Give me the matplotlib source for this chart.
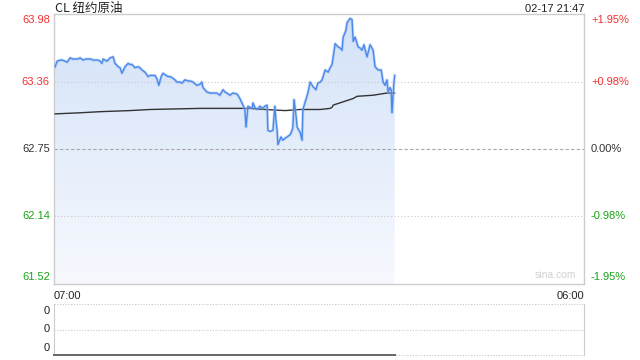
import numpy as np
import matplotlib
matplotlib.use('Agg')
import matplotlib.pyplot as plt
from matplotlib.patches import Polygon
from matplotlib.colors import LinearSegmentedColormap

# 07:00 기준 경과 분
minutes = [3, 8, 16, 21, 29, 34, 42, 49, 55, 62, 68, 76, 83, 89, 96, 102, 109, 115, 120, 125,
           128, 133, 138, 146, 154, 159, 167, 172, 177, 185, 193, 198, 203, 211, 219, 224, 229, 237, 245, 250,
           258, 263, 268, 273, 279, 284, 292, 297, 302, 307, 315, 320, 328, 333, 341, 349, 354, 362, 372, 380,
           385, 388, 393, 398, 406, 414, 424, 432, 440, 445, 450, 458, 466, 477, 484, 492, 497, 500, 503, 505,
           510, 516, 518, 523, 529, 536, 544, 549, 555, 557, 562, 570, 575, 578, 581, 583, 591, 596, 602, 607,
           615, 620, 622, 625, 630, 633, 641, 646, 648, 656, 661, 667, 674, 682, 687, 693, 698, 706, 714, 719,
           724, 732, 740, 745, 750, 753, 760, 763, 771, 776, 779, 784, 792, 797, 802, 807, 815, 823, 831, 836,
           844, 852, 857, 862, 867, 870, 875, 878, 880, 883, 885, 887]
prices = [63.50, 63.55, 63.56, 63.56, 63.55, 63.54, 63.58, 63.57, 63.57, 63.57, 63.58, 63.56, 63.57, 63.57, 63.57, 63.56, 63.56, 63.56, 63.55, 63.53,
          63.57, 63.56, 63.55, 63.58, 63.59, 63.53, 63.50, 63.49, 63.44, 63.50, 63.53, 63.52, 63.52, 63.49, 63.50, 63.49, 63.47, 63.45, 63.41, 63.42,
          63.42, 63.42, 63.39, 63.33, 63.41, 63.44, 63.42, 63.41, 63.41, 63.40, 63.38, 63.36, 63.36, 63.35, 63.38, 63.37, 63.37, 63.36, 63.33, 63.34,
          63.36, 63.31, 63.29, 63.27, 63.26, 63.26, 63.26, 63.24, 63.29, 63.27, 63.26, 63.24, 63.26, 63.25, 63.21, 63.15, 63.11, 62.95, 63.06, 63.14,
          63.13, 63.12, 63.17, 63.13, 63.11, 63.14, 63.12, 63.14, 63.15, 62.92, 62.91, 62.92, 63.14, 63.01, 62.92, 62.79, 62.86, 62.83, 62.85, 62.86,
          62.88, 62.92, 62.95, 63.20, 63.06, 62.95, 62.90, 62.83, 63.11, 63.20, 63.26, 63.36, 63.32, 63.29, 63.35, 63.36, 63.38, 63.47, 63.45, 63.49,
          63.52, 63.71, 63.68, 63.67, 63.65, 63.77, 63.83, 63.90, 63.94, 63.93, 63.73, 63.77, 63.68, 63.67, 63.65, 63.70, 63.59, 63.70, 63.65, 63.50,
          63.47, 63.47, 63.36, 63.33, 63.38, 63.27, 63.31, 63.29, 63.08, 63.24, 63.35, 63.42]

# 평균가 선
avg_minutes = [3, 68, 120, 198, 250, 380, 510, 549, 602, 641, 693, 719, 724, 727, 753, 779, 789, 831, 867, 887]
avg_prices = [63.07, 63.08, 63.09, 63.10, 63.11, 63.12, 63.12, 63.11, 63.10, 63.11, 63.11, 63.12, 63.13, 63.15, 63.18, 63.21, 63.23, 63.24, 63.26, 63.26]

price_ticks = [63.98, 63.36, 62.75, 62.14, 61.52]
price_labels = ['63.98', '63.36', '62.75', '62.14', '61.52']
pct_labels = ['+1.95%', '+0.98%', '0.00%', '-0.98%', '-1.95%']
tick_colors = ['#f23030', '#f23030', '#333333', '#1aa51a', '#1aa51a']
vol_labels = ['0', '0', '0']

title_text = 'CL 纽约原油'
time_text = '02-17 21:47'
x_start, x_end = '07:00', '06:00'
total_minutes = 1380

plt.rcParams['font.family'] = ['Liberation Sans', 'Noto Sans CJK SC', 'DejaVu Sans']

fig = plt.figure(figsize=(6.4, 3.6), dpi=100)
ax = fig.add_axes([54 / 640, 1 - 284 / 360, 530 / 640, 270 / 360])
ax2 = fig.add_axes([54 / 640, 1 - 355 / 360, 530 / 640, 51 / 360])

ymin, ymax = price_ticks[-1], price_ticks[0]
ax.set_xlim(0, total_minutes)
ax.set_ylim(ymin, ymax)

# 그라데이션 채우기
cmap = LinearSegmentedColormap.from_list('fill', ['#f7f9fe', '#d3e2f8'])
grad = np.linspace(0, 1, 256).reshape(-1, 1)
im = ax.imshow(grad, cmap=cmap, aspect='auto', origin='lower',
               extent=[0, total_minutes, ymin, ymax], zorder=1)
verts = [(minutes[0], ymin)] + list(zip(minutes, prices)) + [(minutes[-1], ymin)]
poly = Polygon(verts, closed=True, facecolor='none', edgecolor='none')
ax.add_patch(poly)
im.set_clip_path(poly)

# 격자선
ax.axhline(63.36, color='#c8c8c8', lw=0.8, ls=(0, (1, 2)), zorder=2)
ax.axhline(62.14, color='#c8c8c8', lw=0.8, ls=(0, (1, 2)), zorder=2)
ax.axhline(62.75, color='#a8a8a8', lw=0.8, ls=(0, (3, 2)), zorder=2)

ax.plot(minutes, prices, color='#9dbdf2', lw=2.2, alpha=0.5, zorder=4)
ax.plot(minutes, prices, color='#4a88ea', lw=1.0, zorder=5)
ax.plot(avg_minutes, avg_prices, color='#333333', lw=1.0, zorder=3)

ax.set_xticks([])
ax.set_yticks([])
for sp in ax.spines.values():
    sp.set_color('#cccccc')
    sp.set_linewidth(1)

# 좌/우 축 라벨
offsets = [-6, 0, 0, 0, 7]
for tick, lab, pct, col, off in zip(price_ticks, price_labels, pct_labels, tick_colors, offsets):
    ax.annotate(lab, xy=(0, tick), xycoords=('axes fraction', 'data'),
                xytext=(-3, off * 0.72), textcoords='offset points',
                ha='right', va='center', fontsize=8, color=col)
    ax.annotate(pct, xy=(1, tick), xycoords=('axes fraction', 'data'),
                xytext=(5, off * 0.72), textcoords='offset points',
                ha='left', va='center', fontsize=8, color=col)

fig.text(55 / 640, 1 - 12 / 360, title_text, ha='left', va='baseline',
         fontsize=9, color='#222222', family=['Noto Sans CJK SC', 'DejaVu Sans'])
fig.text(584 / 640, 1 - 12 / 360, time_text, ha='right', va='baseline',
         fontsize=8, color='#222222')
ax.text(0.985, 0.015, 'sina.com', transform=ax.transAxes, ha='right', va='bottom',
        fontsize=7.5, color='#cfcfcf')
ax.text(0, -0.025, x_start, transform=ax.transAxes, ha='left', va='top', fontsize=8, color='#222222')
ax.text(1, -0.025, x_end, transform=ax.transAxes, ha='right', va='top', fontsize=8, color='#222222')

# 거래량 패널
ax2.set_xlim(0, total_minutes)
ax2.set_ylim(0, 1)
ax2.set_xticks([])
ax2.set_yticks([])
for side in ['top', 'bottom']:
    ax2.spines[side].set_visible(False)
for side in ['left', 'right']:
    ax2.spines[side].set_color('#cccccc')
for yv in [1, 0.5, 0]:
    ax2.axhline(yv, color='#c8c8c8', lw=0.8, ls=(0, (1, 1.5)), clip_on=False)
ax2.plot([0, minutes[-1]], [0, 0], color='#666666', lw=1.4, clip_on=False, zorder=3)
for yv, lab, off in zip([1, 0.5, 0], vol_labels, [-5, 0, 5]):
    ax2.annotate(lab, xy=(0, yv), xycoords=('axes fraction', 'data'),
                 xytext=(-3, off), textcoords='offset points',
                 ha='right', va='center', fontsize=8, color='#222222')

fig.savefig('out.png', dpi=100)
